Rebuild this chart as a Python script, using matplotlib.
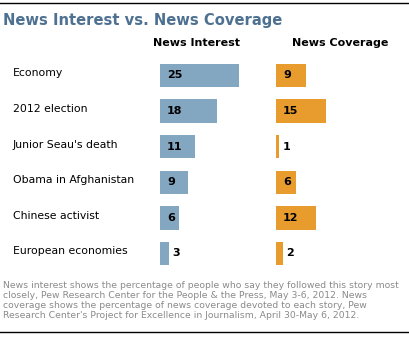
import matplotlib
matplotlib.use("Agg")
import matplotlib.pyplot as plt
from matplotlib.lines import Line2D

stories = ["Economy", "2012 election", "Junior Seau's death",
           "Obama in Afghanistan", "Chinese activist", "European economies"]
interest = [25, 18, 11, 9, 6, 3]
coverage = [9, 15, 1, 6, 12, 2]

title = "News Interest vs. News Coverage"
col_titles = ["News Interest", "News Coverage"]
note = ("News interest shows the percentage of people who say they followed this story most\n"
        "closely, Pew Research Center for the People & the Press, May 3-6, 2012. News\n"
        "coverage shows the percentage of news coverage devoted to each story, Pew\n"
        "Research Center's Project for Excellence in Journalism, April 30-May 6, 2012.")

BLUE = "#84a7c1"
ORANGE = "#e89c2e"
TITLE_C = "#4f7191"
NOTE_C = "#8a8a8a"

W, H = 410, 337
fig = plt.figure(figsize=(W / 100, H / 100), dpi=100)

# rows: centre of first row at y=75.5 px, 35.6 px apart
y_top, y_bot = 75.5 - 17.8, 75.5 + 35.6 * 5 + 17.8

def px_axes(x0, x1):
    return fig.add_axes([x0 / W, 1 - y_bot / H, (x1 - x0) / W, (y_bot - y_top) / H])

def draw(ax, vals, color, ppu):
    ax.set_ylim(len(vals) - 0.5, -0.5)
    width_px = ax.get_position().width * W
    ax.set_xlim(0, width_px / ppu)
    ax.barh(range(len(vals)), vals, height=0.66, color=color)
    for i, v in enumerate(vals):
        if v * ppu > 15:
            ax.annotate(str(v), xy=(0, i), xytext=(7, 0), textcoords="offset pixels",
                        va="center", ha="left", fontsize=8, fontweight="bold")
        else:
            ax.annotate(str(v), xy=(v, i), xytext=(3, 0), textcoords="offset pixels",
                        va="center", ha="left", fontsize=8, fontweight="bold")
    ax.axis("off")

ax1 = px_axes(160, 262)
draw(ax1, interest, BLUE, 3.16)
ax2 = px_axes(276, 400)
draw(ax2, coverage, ORANGE, 3.33)

for i, s in enumerate(stories):
    fig.text(13 / W, 1 - (75.5 + 35.6 * i - 2) / H, s, fontsize=7.8, va="center", ha="left")

fig.text(3 / W, 1 - 20 / H, title, fontsize=10.6, fontweight="bold", color=TITLE_C,
         va="center", ha="left")
fig.text(197 / W, 1 - 43 / H, col_titles[0], fontsize=8, fontweight="bold", va="center", ha="center")
fig.text(340 / W, 1 - 43 / H, col_titles[1], fontsize=8, fontweight="bold", va="center", ha="center")

fig.text(3 / W, 1 - 281 / H, note, fontsize=6.7, color=NOTE_C, va="top", ha="left",
         linespacing=1.12)

fig.add_artist(Line2D([0, 1], [1 - 3 / H, 1 - 3 / H], color="black", lw=1.0))
fig.add_artist(Line2D([0, 1], [1 - 332 / H, 1 - 332 / H], color="black", lw=1.0))

fig.savefig("out.png", dpi=100)
